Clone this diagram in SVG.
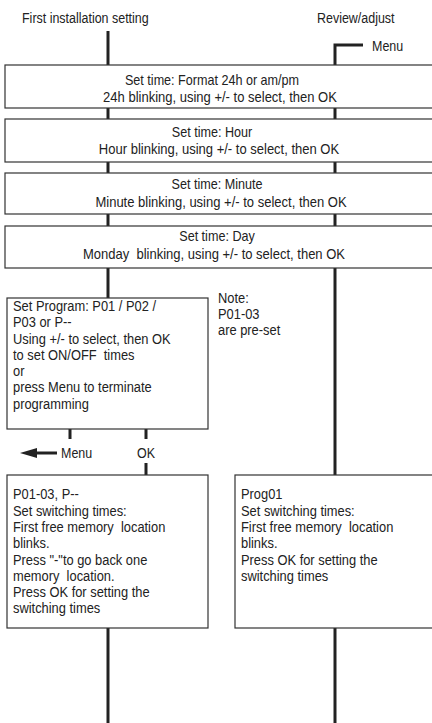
<svg xmlns="http://www.w3.org/2000/svg" width="432" height="723" viewBox="0 0 432 723">
<style>
text{font-family:"Liberation Sans Narrow","Arial Narrow","Liberation Sans",sans-serif;font-size:14px;fill:#222}
.c{text-anchor:middle}
.box{fill:#fff;stroke:#333;stroke-width:1.2}
.ln{stroke:#222;stroke-width:3;fill:none}
</style>
<rect width="432" height="723" fill="#fff"/>
<g id="connectors">
<path class="ln" d="M108 31V65M108 108V119M108 162V173M108 214V226M108 268V298M108 628V723"/>
<path class="ln" d="M363 45H335V65M335 108V119M335 162V173M335 214V226M335 268V475M335 628V723"/>
<path class="ln" d="M70 429V439M146 429V439M146 463V475"/>
<path class="ln" d="M34 453H57"/>
<polygon points="20,453 37,448 37,458" fill="#222"/>
</g>
<g id="labels">
<text transform="translate(22 23) scale(0.89 1)">First installation setting</text>
<text transform="translate(317 23) scale(0.89 1)">Review/adjust</text>
<text transform="translate(372 51) scale(0.89 1)">Menu</text>
<text transform="translate(61 458) scale(0.89 1)">Menu</text>
<text transform="translate(137 458) scale(0.89 1)">OK</text>
</g>
<g id="n1"><rect class="box" x="5" y="65" width="430" height="43"/>
<text class="c" transform="translate(212 85) scale(0.9 1)">Set time: Format 24h or am/pm</text>
<text class="c" transform="translate(220 102) scale(0.93 1)">24h blinking, using +/- to select, then OK</text></g>
<g id="n2"><rect class="box" x="5" y="119" width="430" height="43"/>
<text class="c" transform="translate(212 137) scale(0.9 1)">Set time: Hour</text>
<text class="c" transform="translate(219 154) scale(0.93 1)">Hour blinking, using +/- to select, then OK</text></g>
<g id="n3"><rect class="box" x="5" y="173" width="430" height="41"/>
<text class="c" transform="translate(217 189) scale(0.9 1)">Set time: Minute</text>
<text class="c" transform="translate(221 207) scale(0.93 1)">Minute blinking, using +/- to select, then OK</text></g>
<g id="n4"><rect class="box" x="5" y="226" width="430" height="42"/>
<text class="c" transform="translate(217 241) scale(0.9 1)">Set time: Day</text>
<text class="c" transform="translate(214 259) scale(0.93 1)" xml:space="preserve">Monday  blinking, using +/- to select, then OK</text></g>
<g id="n5"><rect class="box" x="7" y="298" width="201" height="131"/>
<text transform="translate(13 311) scale(0.92 1)">Set Program: P01 / P02 /</text>
<text transform="translate(13 327) scale(0.92 1)">P03 or P--</text>
<text transform="translate(13 344) scale(0.92 1)">Using +/- to select, then OK</text>
<text transform="translate(13 360) scale(0.92 1)" xml:space="preserve">to set ON/OFF  times</text>
<text transform="translate(13 376) scale(0.92 1)">or</text>
<text transform="translate(13 392) scale(0.92 1)">press Menu to terminate</text>
<text transform="translate(13 409) scale(0.92 1)">programming</text></g>
<g id="note">
<text transform="translate(218 303) scale(0.92 1)">Note:</text>
<text transform="translate(218 319) scale(0.92 1)">P01-03</text>
<text transform="translate(218 335) scale(0.92 1)">are pre-set</text></g>
<g id="n6"><rect class="box" x="7" y="475" width="201" height="153"/>
<text transform="translate(13 499) scale(0.92 1)">P01-03, P--</text>
<text transform="translate(13 516) scale(0.92 1)">Set switching times:</text>
<text transform="translate(13 532) scale(0.92 1)" xml:space="preserve">First free memory  location</text>
<text transform="translate(13 548) scale(0.92 1)">blinks.</text>
<text transform="translate(13 565) scale(0.92 1)">Press "-"to go back one</text>
<text transform="translate(13 581) scale(0.92 1)" xml:space="preserve">memory  location.</text>
<text transform="translate(13 597) scale(0.92 1)">Press OK for setting the</text>
<text transform="translate(13 613) scale(0.92 1)">switching times</text></g>
<g id="n7"><rect class="box" x="235" y="475" width="200" height="153"/>
<text transform="translate(241 499) scale(0.92 1)">Prog01</text>
<text transform="translate(241 516) scale(0.92 1)">Set switching times:</text>
<text transform="translate(241 532) scale(0.92 1)" xml:space="preserve">First free memory  location</text>
<text transform="translate(241 548) scale(0.92 1)">blinks.</text>
<text transform="translate(241 565) scale(0.92 1)">Press OK for setting the</text>
<text transform="translate(241 581) scale(0.92 1)">switching times</text></g>
</svg>
